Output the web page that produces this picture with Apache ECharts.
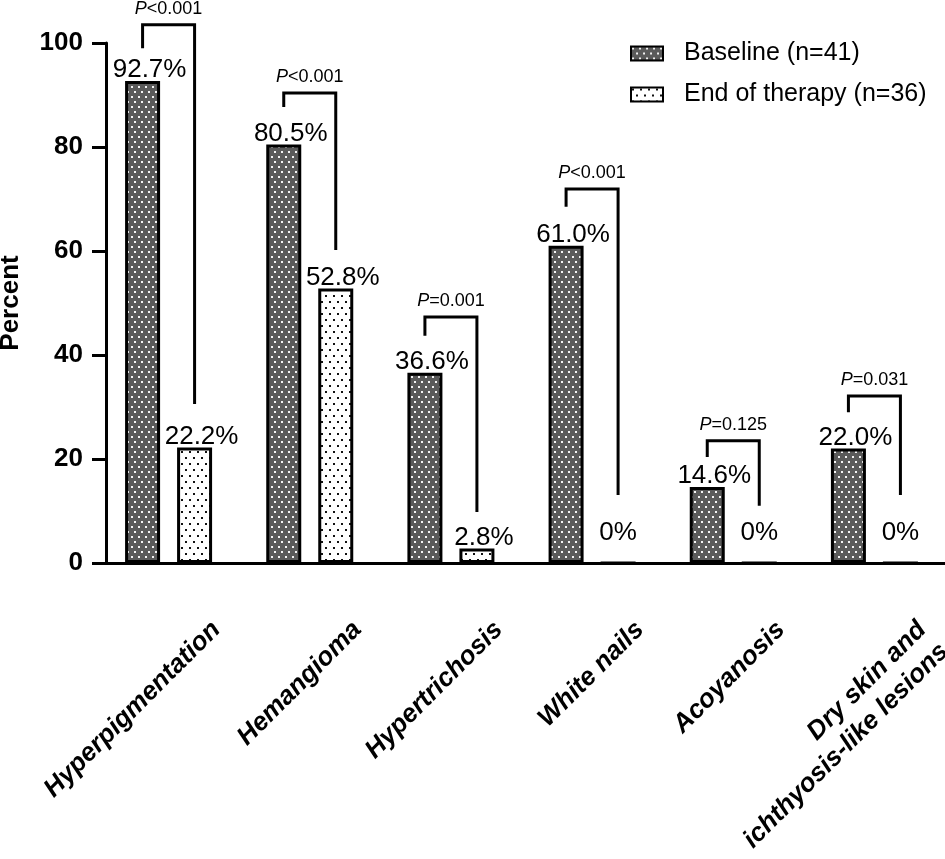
<!DOCTYPE html>
<html>
<head>
<meta charset="utf-8">
<script src="https://cdn.jsdelivr.net/npm/echarts@6/dist/echarts.min.js"></script>
<style>
html,body{margin:0;padding:0;background:#fff;}
#chart{width:945px;height:859px;}
</style>
</head>
<body>
<div id="chart"></div>
<script>
// ---- data ----
const categories = ['Hyperpigmentation', 'Hemangioma', 'Hypertrichosis', 'White nails', 'Acoyanosis', 'Dry skin and\nichthyosis-like lesions'];
const seriesNames = ['Baseline (n=41)', 'End of therapy (n=36)'];
const baselineValues = [92.7, 80.5, 36.6, 61.0, 14.6, 22.0];
const endValues = [22.2, 52.8, 2.8, 0, 0, 0];
const yTicks = [0, 20, 40, 60, 80, 100];
// significance brackets (in percent units)
const bracketTop = [103.5, 90.4, 47.3, 71.9, 23.5, 32.1];
const bracketLeftEnd = [99.0, 87.7, 43.7, 68.5, 20.4, 29.0];
const bracketRightEnd = [30.6, 60.2, 9.8, 13.1, 11.0, 13.1];
const pSigns = ['<', '<', '=', '<', '=', '='];
const pValues = ['0.001', '0.001', '0.001', '0.001', '0.125', '0.031'];

// ---- patterns (staggered dots) ----
function makePattern(w, h, bg, dot, ds) {
  const c = document.createElement('canvas');
  c.width = w; c.height = h;
  const ctx = c.getContext('2d');
  ctx.fillStyle = bg; ctx.fillRect(0, 0, w, h);
  ctx.fillStyle = dot;
  ctx.fillRect(1, 1, ds, ds);
  ctx.fillRect(1 + Math.round(w / 2), 1 + Math.round(h / 2), ds, ds);
  return { image: c, repeat: 'repeat' };
}
const darkPattern = makePattern(7, 10, '#5a5a5a', '#f4f4f4', 2);
const lightPattern = makePattern(8, 12, '#ffffff', '#111111', 2);

const FONT = '"Liberation Sans", Arial, Helvetica, sans-serif';
const BAR_W = 35;
const BAR_GAP_PX = 17;
const LEG_OFF = (BAR_W + BAR_GAP_PX) / 2;

function fmt(v) { return v === 0 ? '0%' : v.toFixed(1) + '%'; }
function barData(vals) {
  return vals.map(v => v === 0 ? { value: v, label: { distance: 20, offset: [0, 4] } } : v);
}

const bracketData = categories.map((c, i) => [i, bracketTop[i], bracketLeftEnd[i], bracketRightEnd[i], pSigns[i] + pValues[i]]);

const labelStyle = { show: true, position: 'top', distance: 2, offset: [7, 4], formatter: p => fmt(p.value),
  fontFamily: FONT, fontSize: 26, color: '#000' };

const chart = echarts.init(document.getElementById('chart'), null, { renderer: 'canvas' });
chart.setOption({
  animation: false,
  backgroundColor: '#fff',
  grid: { left: 98, right: 0, top: 43, bottom: 296, containLabel: false, outerBoundsMode: 'none' },
  legend: {
    orient: 'vertical', left: 625, top: 36, itemGap: 16,
    itemWidth: 32, itemHeight: 14, icon: 'rect',
    data: seriesNames,
    textStyle: { fontFamily: FONT, fontSize: 25, color: '#000', lineHeight: 25, padding: [0, 0, 0, 16] }
  },
  xAxis: {
    type: 'category', data: categories,
    axisLine: { lineStyle: { color: '#000', width: 3 } },
    axisTick: { alignWithLabel: true, length: 14, lineStyle: { color: '#000', width: 3 } },
    axisLabel: {
      interval: 0, rotate: 45, margin: 15,
      align: 'right', verticalAlign: 'top', padding: [52, 0, 0, 0],
      fontFamily: FONT, fontSize: 26, fontWeight: 'bold', fontStyle: 'italic',
      color: '#000', lineHeight: 31
    }
  },
  yAxis: {
    type: 'value', min: 0, max: 100, interval: 20, offset: -8,
    name: 'Percent', nameLocation: 'middle', nameRotate: 90, nameGap: 82,
    nameTextStyle: { fontFamily: FONT, fontSize: 26, fontWeight: 'bold', color: '#000' },
    axisLine: { show: true, lineStyle: { color: '#000', width: 3 } },
    axisTick: { show: true, length: 14, lineStyle: { color: '#000', width: 3 } },
    splitLine: { show: false },
    axisLabel: {
      margin: 23, fontFamily: FONT, fontSize: 26, fontWeight: 'bold', color: '#000',
      customValues: yTicks
    }
  },
  series: [
    {
      name: seriesNames[0], type: 'bar', barWidth: BAR_W, barGap: (BAR_GAP_PX / BAR_W * 100) + '%',
      data: barData(baselineValues),
      itemStyle: { color: darkPattern, borderColor: '#000', borderWidth: 3 },
      label: labelStyle
    },
    {
      name: seriesNames[1], type: 'bar', barWidth: BAR_W,
      data: barData(endValues),
      itemStyle: { color: lightPattern, borderColor: '#000', borderWidth: 3 },
      label: labelStyle
    },
    {
      name: 'brackets', type: 'custom', clip: false, z: 5,
      data: bracketData,
      encode: { x: 0, y: 1 },
      renderItem: function (params, api) {
        const idx = api.value(0);
        const top = api.coord([idx, api.value(1)]);
        const yl = api.coord([idx, api.value(2)])[1];
        const yr = api.coord([idx, api.value(3)])[1];
        const lx = top[0] - LEG_OFF, rx = top[0] + LEG_OFF, ty = top[1];
        const txt = bracketData[params.dataIndex][4];
        return {
          type: 'group',
          children: [
            { type: 'polyline', shape: { points: [[lx, yl], [lx, ty], [rx, ty], [rx, yr]] },
              style: { stroke: '#000', lineWidth: 3, fill: null } },
            { type: 'text', x: top[0], y: ty - 7,
              style: {
                text: '{i|P}{n|' + txt + '}',
                align: 'center', verticalAlign: 'bottom',
                rich: {
                  i: { fontFamily: FONT, fontSize: 18, fontStyle: 'italic', fill: '#000' },
                  n: { fontFamily: FONT, fontSize: 18, fill: '#000' }
                }
              } }
          ]
        };
      }
    }
  ]
});
</script>
</body>
</html>
